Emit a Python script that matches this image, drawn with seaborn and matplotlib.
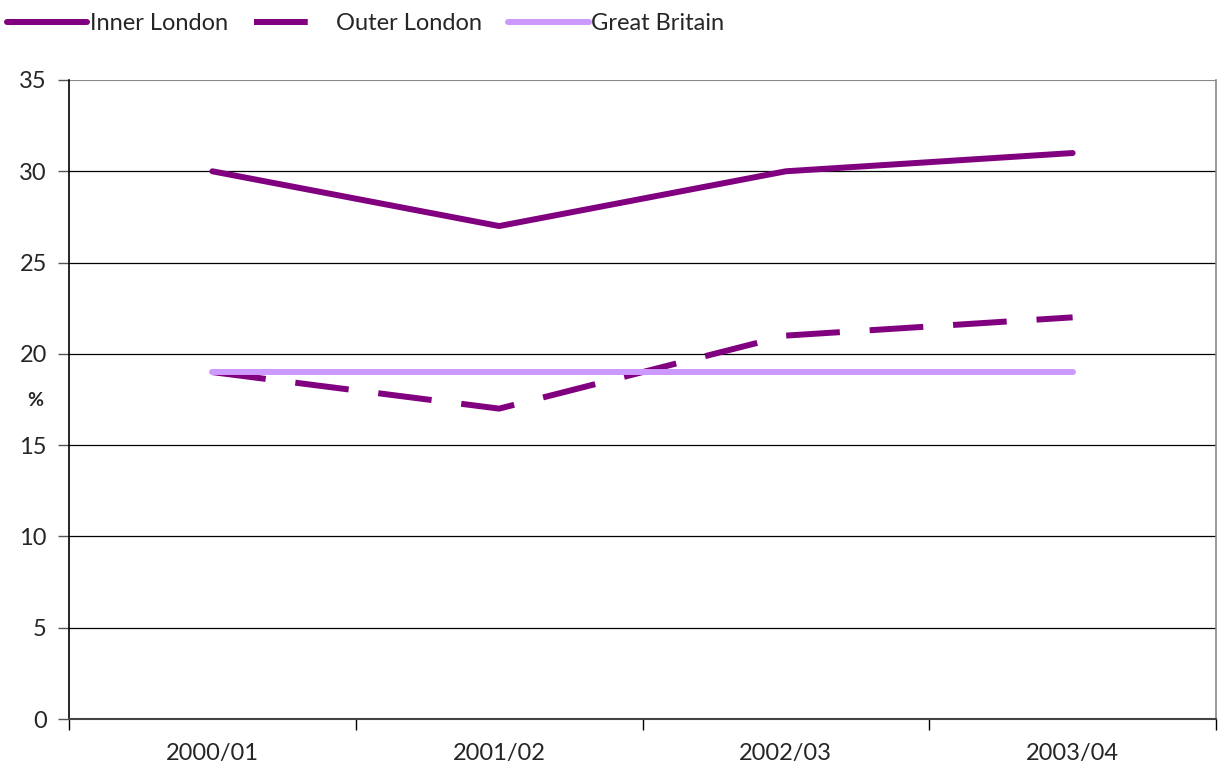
import matplotlib
matplotlib.use("Agg")
import matplotlib.pyplot as plt
import seaborn as sns
import pandas as pd
from matplotlib.lines import Line2D

years = ["2000/01", "2001/02", "2002/03", "2003/04"]
inner_london = [30, 27, 30, 31]
outer_london = [19, 17, 21, 22]
great_britain = [19, 19, 19, 19]
y_ticks = [0, 5, 10, 15, 20, 25, 30, 35]

sns.set_theme(style="white")
plt.rcParams['font.family'] = ['Lato', 'DejaVu Sans']

PURPLE = "#800080"
LILAC = "#CC99FF"
LW = 4.3
FS = 17

fig = plt.figure(figsize=(12.18, 7.69), dpi=100)
ax = fig.add_axes([69/1218, 50/769, (1216-69)/1218, (719-80)/769])

df = pd.DataFrame({"year": years, "Inner London": inner_london,
                   "Outer London": outer_london, "Great Britain": great_britain})

sns.lineplot(data=df, x="year", y="Inner London", ax=ax, color=PURPLE,
             linewidth=LW, solid_capstyle="round", sort=False)
sns.lineplot(data=df, x="year", y="Outer London", ax=ax, color=PURPLE,
             linewidth=LW, dashes=False, sort=False)
ax.lines[-1].set_dashes((9, 5))
ax.lines[-1].set_dash_capstyle("butt")
sns.lineplot(data=df, x="year", y="Great Britain", ax=ax, color=LILAC,
             linewidth=LW, solid_capstyle="round", sort=False)

ax.set_xlim(-0.5, 3.5)
ax.set_ylim(0, 35)
ax.set_yticks(y_ticks)
ax.set_yticklabels([str(t) for t in y_ticks], fontsize=FS)
ax.set_xticks(range(len(years)))
ax.set_xticklabels(years, fontsize=FS)
ax.set_xticks([i - 0.5 for i in range(len(years) + 1)], minor=True)
ax.tick_params(axis="x", which="major", length=0, pad=17)
ax.tick_params(axis="x", which="minor", length=8, width=1, color="black", direction="out", bottom=True)
ax.tick_params(axis="y", which="major", length=8, width=1, color="#555555", direction="out", left=True, pad=8)
ax.set_xlabel("")
ax.set_ylabel("")

ax.grid(False)
for y in y_ticks[1:-1]:
    ax.axhline(y, color="black", linewidth=0.9, zorder=0)
ax.axhline(35, color="#888888", linewidth=1.5, zorder=0)

ax.spines["top"].set_visible(False)
ax.spines["left"].set_color("black")
ax.spines["left"].set_linewidth(1.2)
ax.spines["bottom"].set_color("#444444")
ax.spines["bottom"].set_linewidth(1.5)
ax.spines["right"].set_color("#888888")
ax.spines["right"].set_linewidth(1.2)

fig.text(35/1218, 1 - 400/769, "%", fontsize=14, fontweight="bold", ha="center", va="center")

handles = [
    Line2D([], [], color=PURPLE, linewidth=LW, solid_capstyle="round"),
    Line2D([], [], color=PURPLE, linewidth=LW, dashes=(9, 6), dash_capstyle="butt"),
    Line2D([], [], color=LILAC, linewidth=LW, solid_capstyle="round"),
]
fig.legend(handles, ["Inner London", "Outer London", "Great Britain"],
           loc="center left", bbox_to_anchor=(0.0, 1 - 24/769), ncol=3, frameon=False,
           fontsize=FS, handlelength=3.4, handletextpad=0.1, columnspacing=1.1,
           borderaxespad=0, borderpad=0.3)

fig.savefig("out.png", dpi=100)
